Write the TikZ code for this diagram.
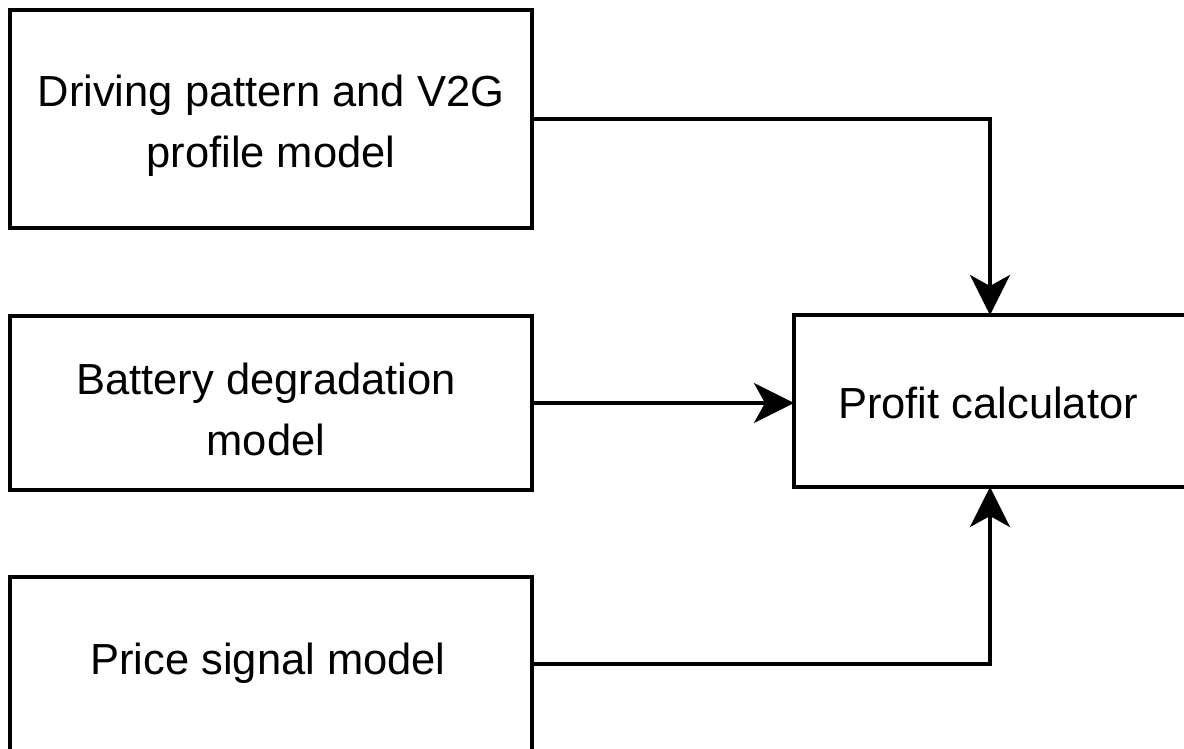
\documentclass[tikz,border=0pt]{standalone}
\usepackage{fontspec}
\setmainfont{Liberation Sans}
\usetikzlibrary{arrows.meta}
\begin{document}
\begin{tikzpicture}[x=1pt,y=-1pt,
  blk/.style={draw=black, line width=4pt, rectangle, inner sep=0pt, outer sep=0pt},
  txt/.style={inner sep=0pt, align=center, font=\fontsize{43.5}{61}\selectfont},
  conn/.style={line width=4pt, -{Stealth[length=40pt, width=40pt, inset=11pt]}}]
\useasboundingbox (0,0) rectangle (1184,749);
\clip (0,0) rectangle (1184,749);
\node[blk, minimum width=522pt, minimum height=218pt] (drv) at (271,119) {};
\node[txt] (drvt) at (271,126) {Driving pattern and V2G\\profile model};
\node[blk, minimum width=522pt, minimum height=174pt] (bat) at (271,403) {};
\node[txt] (batt) at (266,409) {Battery degradation\\model};
\node[blk, minimum width=522pt, minimum height=174pt] (prc) at (271,664) {};
\node[txt] (prct) at (268,663) {Price signal model};
\node[blk, minimum width=392pt, minimum height=172pt] (pro) at (990,401) {};
\node[txt] (prot) at (988,403) {Profit calculator};
\draw[conn] (drv.east |- 0,119) -| (pro.north);
\draw[conn] (bat.east) -- (pro.west |- bat.east);
\draw[conn] (prc.east) -| (pro.south);
\end{tikzpicture}
\end{document}
